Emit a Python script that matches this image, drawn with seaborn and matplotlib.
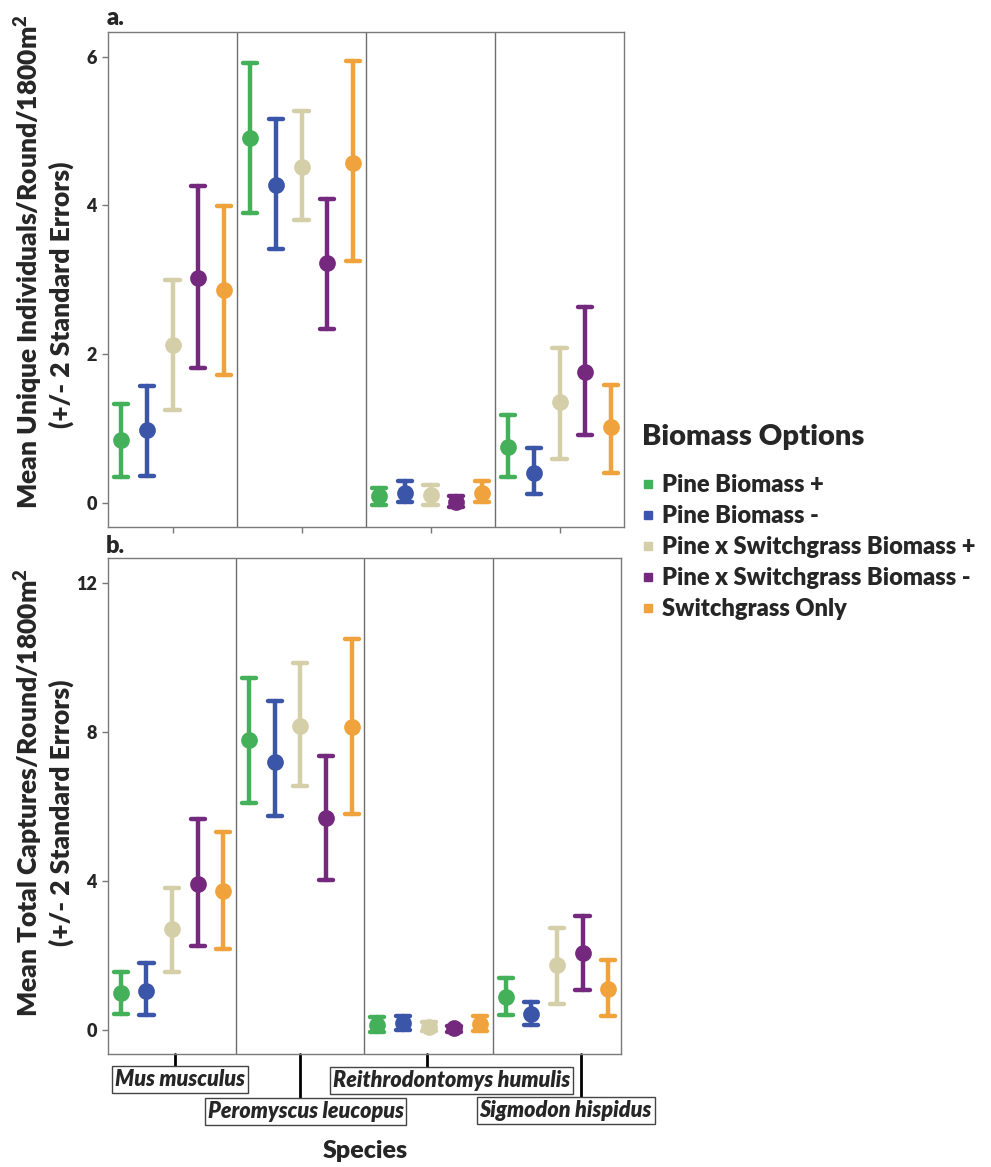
import matplotlib
matplotlib.use("Agg")
import matplotlib.pyplot as plt
from matplotlib.lines import Line2D
import numpy as np
import pandas as pd
import seaborn as sns

species = ["Mus musculus", "Peromyscus leucopus", "Reithrodontomys humulis", "Sigmodon hispidus"]
options = ["Pine Biomass +", "Pine Biomass -", "Pine x Switchgrass Biomass +",
           "Pine x Switchgrass Biomass -", "Switchgrass Only"]
colors = ["#45b05a", "#3b55a8", "#d4cfa8", "#74297e", "#f0a33c"]

# rows = species, columns = biomass options
ind_mean = [[0.85, 0.98, 2.13, 3.03, 2.87],
            [4.90, 4.28, 4.52, 3.22, 4.57],
            [0.09, 0.14, 0.11, 0.02, 0.14],
            [0.75, 0.41, 1.36, 1.76, 1.02]]
ind_lo = [[0.35, 0.37, 1.25, 1.81, 1.72],
          [3.90, 3.41, 3.81, 2.34, 3.25],
          [-0.03, 0.01, -0.02, -0.05, 0.01],
          [0.35, 0.12, 0.60, 0.91, 0.41]]
ind_hi = [[1.33, 1.57, 3.00, 4.26, 3.99],
          [5.92, 5.16, 5.27, 4.09, 5.94],
          [0.20, 0.30, 0.25, 0.09, 0.30],
          [1.19, 0.74, 2.08, 2.64, 1.59]]

cap_mean = [[1.01, 1.06, 2.71, 3.93, 3.74],
            [7.78, 7.20, 8.16, 5.69, 8.14],
            [0.14, 0.19, 0.09, 0.05, 0.17],
            [0.88, 0.42, 1.74, 2.07, 1.11]]
cap_lo = [[0.44, 0.40, 1.55, 2.26, 2.19],
          [6.09, 5.74, 6.54, 4.02, 5.81],
          [-0.05, 0.00, -0.03, -0.05, -0.03],
          [0.40, 0.14, 0.69, 1.08, 0.38]]
cap_hi = [[1.55, 1.81, 3.81, 5.67, 5.32],
          [9.46, 8.82, 9.84, 7.36, 10.49],
          [0.35, 0.38, 0.22, 0.11, 0.38],
          [1.41, 0.75, 2.75, 3.06, 1.88]]


def long_frame(mean, lo, hi):
    # three rows per point: median -> mean, min/max -> error bar ends
    rows = []
    for i, sp in enumerate(species):
        for j, op in enumerate(options):
            for v in (lo[i][j], mean[i][j], hi[i][j]):
                rows.append({"species": sp, "option": op, "value": v})
    return pd.DataFrame(rows)


df_ind = long_frame(ind_mean, ind_lo, ind_hi)
df_cap = long_frame(cap_mean, cap_lo, cap_hi)

W = "heavy"
sns.set_theme(style="white")
plt.rcParams["font.family"] = ["Lato", "DejaVu Sans"]
plt.rcParams["font.weight"] = W
plt.rcParams["mathtext.fontset"] = "custom"
plt.rcParams["mathtext.rm"] = "Lato:heavy"
plt.rcParams["mathtext.bf"] = "Lato:heavy"

fig = plt.figure(figsize=(9.91, 11.67), dpi=100)
ax_a = fig.add_axes([108 / 991, 1 - 527 / 1167, 516 / 991, 495 / 1167])
ax_b = fig.add_axes([108 / 991, 1 - 1054 / 1167, 513 / 991, 496 / 1167])


def draw(ax, df, ylim, yticks, ylabel, y1, y2):
    sns.pointplot(data=df, x="species", y="value", hue="option", order=species,
                  hue_order=options, palette=colors, estimator="median",
                  errorbar=lambda v: (v.min(), v.max()), dodge=0.8,
                  linestyle="none", markers="o", markersize=10, capsize=0.11,
                  err_kws={"linewidth": 3.2}, legend=False, ax=ax)
    for xv in (0.5, 1.5, 2.5):
        ax.axvline(xv, color="#6e6e6e", lw=1)
    ax.set_xlim(-0.5, 3.5)
    ax.set_ylim(*ylim)
    ax.set_yticks(yticks)
    ax.set_yticklabels([str(t) for t in yticks], fontsize=13, fontweight=W)
    ax.tick_params(axis="y", left=True, length=4, width=1, color="#777777", pad=4)
    ax.set_xlabel("")
    # two-line axis title: main line as ylabel, SE note as second line
    ax.set_ylabel(ylabel, fontsize=19, fontweight=W)
    ax.yaxis.set_label_coords(-63 / ax.bbox.width, y1)
    ax.text(-34 / ax.bbox.width, y2, "(+/- 2 Standard Errors)", transform=ax.transAxes,
            rotation=90, rotation_mode="anchor", ha="center", va="bottom",
            fontsize=19, fontweight=W)
    for s in ax.spines.values():
        s.set_color("#7a7a7a")
        s.set_linewidth(1)


draw(ax_a, df_ind, (-0.32, 6.33), [0, 2, 4, 6],
     "Mean Unique Individuals/Round/1800m$^{2}$", 0.537, 0.470)
draw(ax_b, df_cap, (-0.64, 12.67), [0, 4, 8, 12],
     "Mean Total Captures/Round/1800m$^{2}$", 0.526, 0.487)

ax_a.set_xticks(range(4))
ax_a.set_xticklabels([])
ax_a.tick_params(axis="x", bottom=True, length=4, width=1, color="#777777")

# staggered boxed species labels under panel b
ax_b.set_xticks([])
tick_x = [0.02, 1.0, 1.99, 3.19]
tick_end = [-0.028, -0.091, -0.028, -0.087]
label_x = [0.06, 1.04, 2.18, 3.07]
label_y = [-0.052, -0.116, -0.053, -0.114]
trans = ax_b.get_xaxis_transform()
for sp, tx, te, lx, ly in zip(species, tick_x, tick_end, label_x, label_y):
    ax_b.plot([tx, tx], [0, te], color="black", lw=2, transform=trans, clip_on=False)
    ax_b.text(lx, ly, sp, transform=trans, ha="center", va="center", fontsize=15.5,
              fontweight=W, style="italic",
              bbox=dict(boxstyle="square,pad=0.13", fc="white", ec="#444444", lw=1))

fig.text(365 / 991, 1 - 1151 / 1167, "Species", ha="center", va="center",
         fontsize=18, fontweight=W)
fig.text(107 / 991, 1 - 18 / 1167, "a.", ha="left", va="center", fontsize=17, fontweight=W)
fig.text(106 / 991, 1 - 546 / 1167, "b.", ha="left", va="center", fontsize=17, fontweight=W)

# legend: title placed on its own, entries below
fig.text(642 / 991, 1 - 437 / 1167, "Biomass Options", ha="left", va="center",
         fontsize=21, fontweight=W)
handles = [Line2D([], [], marker="s", ls="", color=c, markersize=6) for c in colors]
leg = fig.legend(handles, options, loc="center left", bbox_to_anchor=(618 / 991, 1 - 547 / 1167),
                 frameon=False, fontsize=17, handletextpad=0.25,
                 handlelength=0.7, labelspacing=0.38)
for t in leg.get_texts():
    t.set_fontweight(W)

fig.savefig("out.png", dpi=100)
